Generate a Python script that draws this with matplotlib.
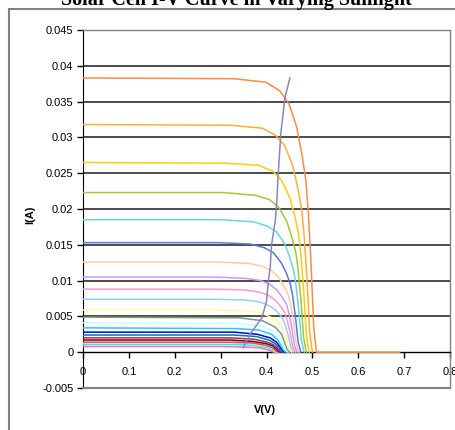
import matplotlib
matplotlib.use("Agg")
import matplotlib.pyplot as plt
from matplotlib.patches import Rectangle

# ---- data ----
curve_v = [
    [0, 0.329, 0.399, 0.429, 0.449, 0.466, 0.477, 0.486, 0.491, 0.497, 0.503, 0.509, 0.69],
    [0, 0.32, 0.39, 0.42, 0.44, 0.457, 0.468, 0.477, 0.482, 0.488, 0.494, 0.500],
    [0, 0.313, 0.383, 0.413, 0.433, 0.45, 0.461, 0.47, 0.475, 0.481, 0.487, 0.493],
    [0, 0.307, 0.377, 0.407, 0.427, 0.444, 0.455, 0.464, 0.469, 0.475, 0.481, 0.487],
    [0, 0.302, 0.372, 0.402, 0.422, 0.439, 0.45, 0.459, 0.464, 0.47, 0.476, 0.482],
    [0, 0.295, 0.365, 0.395, 0.415, 0.432, 0.443, 0.452, 0.457, 0.463, 0.469, 0.475],
    [0, 0.291, 0.361, 0.391, 0.411, 0.428, 0.439, 0.448, 0.453, 0.459, 0.465, 0.471],
    [0, 0.287, 0.357, 0.387, 0.407, 0.424, 0.435, 0.444, 0.449, 0.455, 0.461, 0.467],
    [0, 0.283, 0.353, 0.383, 0.403, 0.42, 0.431, 0.44, 0.445, 0.451, 0.457, 0.463],
    [0, 0.279, 0.349, 0.379, 0.399, 0.416, 0.427, 0.436, 0.441, 0.447, 0.453, 0.459],
    [0, 0.275, 0.345, 0.375, 0.395, 0.412, 0.423, 0.432, 0.437, 0.443, 0.449, 0.455],
    [0, 0.341, 0.391, 0.419, 0.433, 0.445, 0.451],
    [0, 0.337, 0.387, 0.415, 0.429, 0.441, 0.447],
    [0, 0.333, 0.383, 0.411, 0.425, 0.437, 0.443],
    [0, 0.33, 0.38, 0.408, 0.422, 0.434, 0.44],
    [0, 0.327, 0.377, 0.405, 0.419, 0.431, 0.437],
    [0, 0.324, 0.374, 0.402, 0.416, 0.428, 0.434],
    [0, 0.321, 0.371, 0.399, 0.413, 0.425, 0.431],
    [0, 0.318, 0.368, 0.396, 0.41, 0.422, 0.428],
    [0, 0.315, 0.365, 0.393, 0.407, 0.419, 0.425],
    [0, 0.312, 0.362, 0.39, 0.404, 0.416, 0.422],
    [0, 0.308, 0.358, 0.386, 0.4, 0.412, 0.418],
]
curve_i = [
    [0.0383, 0.0382, 0.0377, 0.0365, 0.0347, 0.0314, 0.0277, 0.0239, 0.0197, 0.0126, 0.0034, 0, 0],
    [0.0318, 0.0317, 0.0313, 0.0303, 0.0288, 0.0261, 0.0230, 0.0198, 0.0163, 0.0105, 0.0029, 0],
    [0.0265, 0.0264, 0.0261, 0.0253, 0.0240, 0.0217, 0.0192, 0.0165, 0.0136, 0.0087, 0.0024, 0],
    [0.0223, 0.0223, 0.0219, 0.0213, 0.0202, 0.0183, 0.0161, 0.0139, 0.0115, 0.0074, 0.0020, 0],
    [0.0185, 0.0185, 0.0182, 0.0176, 0.0168, 0.0152, 0.0134, 0.0115, 0.0095, 0.0061, 0.0017, 0],
    [0.0153, 0.0153, 0.0151, 0.0146, 0.0139, 0.0125, 0.0111, 0.0095, 0.0079, 0.0050, 0.0014, 0],
    [0.0126, 0.0126, 0.0124, 0.0120, 0.0114, 0.0103, 0.0091, 0.0079, 0.0065, 0.0042, 0.0011, 0],
    [0.0105, 0.0105, 0.0103, 0.0100, 0.0095, 0.0086, 0.0076, 0.0066, 0.0054, 0.0035, 0.0009, 0],
    [0.0088, 0.0088, 0.0087, 0.0084, 0.0080, 0.0072, 0.0064, 0.0055, 0.0045, 0.0029, 0.0008, 0],
    [0.0074, 0.0074, 0.0073, 0.0071, 0.0067, 0.0061, 0.0054, 0.0046, 0.0038, 0.0024, 0.0007, 0],
    [0.0059, 0.0059, 0.0058, 0.0056, 0.0053, 0.0048, 0.0043, 0.0037, 0.0030, 0.0019, 0.0005, 0],
    [0.0049, 0.0048, 0.0044, 0.0035, 0.0025, 0.0004, 0],
    [0.0041, 0.0040, 0.0037, 0.0030, 0.0021, 0.0004, 0],
    [0.0034, 0.0033, 0.0031, 0.0025, 0.0017, 0.0003, 0],
    [0.0028, 0.0028, 0.0025, 0.0020, 0.0014, 0.0003, 0],
    [0.0024, 0.0024, 0.0022, 0.0017, 0.0012, 0.0002, 0],
    [0.0020, 0.0020, 0.0018, 0.0014, 0.0010, 0.0002, 0],
    [0.0017, 0.0017, 0.0015, 0.0012, 0.0009, 0.0002, 0],
    [0.0014, 0.0014, 0.0013, 0.0010, 0.0007, 0.0001, 0],
    [0.0013, 0.0013, 0.0012, 0.0009, 0.0007, 0.0001, 0],
    [0.0011, 0.0011, 0.0010, 0.0008, 0.0006, 0.0001, 0],
    [0.0008, 0.0008, 0.0007, 0.0006, 0.0004, 0.0001, 0],
]
curve_colors = [
    "#ff8a45", "#ffae3a", "#ffcc11", "#9ccc33", "#66d9d9", "#5577ee",
    "#ffcca6", "#cc99ff", "#ff99cc", "#99ccff", "#ffff99", "#78997a",
    "#ccffff", "#22ccff", "#0000ff", "#008080", "#993366", "#800000",
    "#cc44cc", "#ffff00", "#00ffff", "#ff66cc",
]
mpp_v = [0.349, 0.364, 0.39, 0.40, 0.404, 0.408, 0.411, 0.419, 0.422, 0.426, 0.431, 0.44, 0.451]
mpp_i = [0.0006, 0.0025, 0.0048, 0.0071, 0.0099, 0.0118, 0.015, 0.0183, 0.0206, 0.0253, 0.0304, 0.0355, 0.0383]

x_ticks = [0, 0.1, 0.2, 0.3, 0.4, 0.5, 0.6, 0.7, 0.8]
x_labels = ["0", "0.1", "0.2", "0.3", "0.4", "0.5", "0.6", "0.7", "0.8"]
y_ticks = [-0.005, 0, 0.005, 0.01, 0.015, 0.02, 0.025, 0.03, 0.035, 0.04, 0.045]
y_labels = ["-0.005", "0", "0.005", "0.01", "0.015", "0.02", "0.025", "0.03", "0.035", "0.04", "0.045"]
grid_levels = [0.005, 0.01, 0.015, 0.02, 0.025, 0.03, 0.035, 0.04]

title = "Solar Cell I-V Curve in Varying Sunlight"

# ---- figure ----
W, H = 456, 430
fig = plt.figure(figsize=(W / 100, H / 100), dpi=100)
fig.patch.set_facecolor("white")

# chart-area border
fig.patches.append(Rectangle((9 / W, -0.1), 1.2, (1 - 9 / H) + 0.1, transform=fig.transFigure,
                             fill=False, edgecolor="#808080", lw=1.5, zorder=0))

ax = fig.add_axes([83 / W, 1 - 388 / H, (450 - 83) / W, (388 - 30) / H])
ax.set_xlim(0, 0.8)
ax.set_ylim(-0.005, 0.045)

for g in grid_levels:
    ax.axhline(g, color="#1a1a1a", lw=1.1, zorder=1)

for v, i, c in zip(curve_v[::-1], curve_i[::-1], curve_colors[::-1]):
    ax.plot(v, i, color=c, lw=1.1, zorder=3)

ax.plot(mpp_v, mpp_i, color="#8585c0", lw=1.1, zorder=4)

# axes styling (Excel-like)
for s in ["top", "right"]:
    ax.spines[s].set_color("#808080")
    ax.spines[s].set_linewidth(1.0)
ax.spines["bottom"].set_position(("data", 0))
ax.spines["bottom"].set_color("black")
ax.spines["bottom"].set_linewidth(1.0)
ax.spines["left"].set_color("black")
ax.axhline(-0.005, color="#808080", lw=1.5, clip_on=False, zorder=5)

ax.set_xticks(x_ticks)
ax.set_xticklabels(x_labels)
ax.set_yticks(y_ticks)
ax.set_yticklabels(y_labels)
ax.tick_params(axis="both", direction="out", length=4, width=1, labelsize=8,
               colors="black", pad=3)
ax.tick_params(axis="x", pad=7)
for lab in ax.get_xticklabels() + ax.get_yticklabels():
    lab.set_fontfamily("Liberation Sans")

fig.text(30 / W, 1 - 215 / H, "I(A)", rotation=90, ha="center", va="center",
         fontsize=8, fontweight="bold", family="Liberation Sans")
fig.text(265 / W, 1 - 410 / H, "V(V)", ha="center", va="center",
         fontsize=8, fontweight="bold", family="Liberation Sans")
fig.text(236 / W, 1 - 5 / H, title, ha="center", va="baseline",
         fontsize=14.5, fontweight="bold", family="Liberation Serif")

fig.savefig("out.png", dpi=100, facecolor="white")
